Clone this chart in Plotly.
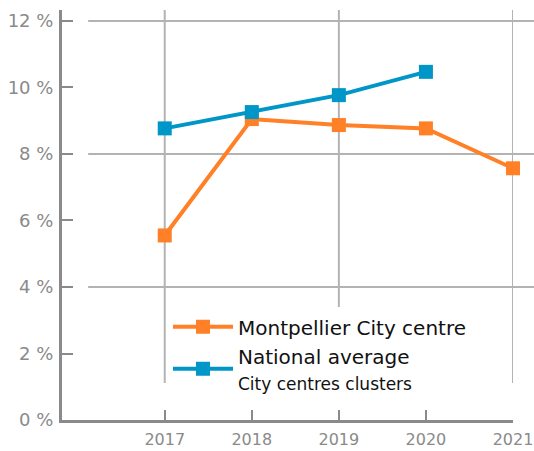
import plotly.graph_objects as go

years = [2017, 2018, 2019, 2020, 2021]
montpellier = [5.55, 9.05, 8.87, 8.77, 7.57]
national_years = [2017, 2018, 2019, 2020]
national = [8.77, 9.26, 9.77, 10.47]
y_ticks = [0, 2, 4, 6, 8, 10, 12]
y_ticklabels = [f"{v} %" for v in y_ticks]
grid_y = [4, 8, 12]
grid_x = [2017, 2019, 2021]

ORANGE = "#FF8026"
BLUE = "#0096C8"
AXIS = "#8a8a8a"
GRID = "#b3b3b3"
FONT = "DejaVu Sans"

fig = go.Figure()
fig.add_trace(go.Scatter(
    x=years, y=montpellier, mode="lines+markers", name="Montpellier City centre",
    line=dict(color=ORANGE, width=4), marker=dict(symbol="square", size=14, color=ORANGE),
    cliponaxis=False,
))
fig.add_trace(go.Scatter(
    x=national_years, y=national, mode="lines+markers",
    name="National average<br><span style='font-size:17px'>City centres clusters</span>",
    line=dict(color=BLUE, width=4), marker=dict(symbol="square", size=14, color=BLUE),
    cliponaxis=False,
))

for gy in grid_y:
    fig.add_shape(type="line", xref="paper", yref="y", x0=0.058, x1=1.05, y0=gy, y1=gy,
                  line=dict(color=GRID, width=2), layer="below")
for gx in grid_x:
    fig.add_shape(type="line", xref="x", yref="y", x0=gx, x1=gx, y0=1.11, y1=12.33,
                  line=dict(color=GRID, width=2), layer="below")

fig.update_layout(
    width=534, height=451,
    margin=dict(l=62, r=21, t=10, b=31),
    paper_bgcolor="white", plot_bgcolor="white",
    font=dict(family=FONT, color=AXIS, size=18),
    showlegend=True,
    legend=dict(x=0.235, y=0.275, xanchor="left", yanchor="top", itemwidth=60,
                bgcolor="white", font=dict(family=FONT, size=20, color="#111111"),
                tracegroupgap=2),
    xaxis=dict(range=[2015.82, 2021], tickvals=years, ticks="inside", ticklen=10,
               tickwidth=2, tickcolor=AXIS, showline=True, linecolor=AXIS, linewidth=3,
               showgrid=False, zeroline=False, tickfont=dict(family=FONT, size=16, color=AXIS),
               ticklabelstandoff=3, automargin=False, ticklabeloverflow="allow"),
    yaxis=dict(range=[0, 12.33], tickvals=y_ticks, ticktext=y_ticklabels, ticks="inside",
               ticklen=11, tickwidth=2, tickcolor=AXIS, showline=True, linecolor=AXIS,
               linewidth=3, showgrid=False, zeroline=False,
               tickfont=dict(family=FONT, size=18, color=AXIS), ticklabelstandoff=2,
               automargin=False),
)

fig.write_html("out.html", config={"displayModeBar": False},
               post_script="document.body.style.margin='0';document.body.style.overflow='hidden';")
